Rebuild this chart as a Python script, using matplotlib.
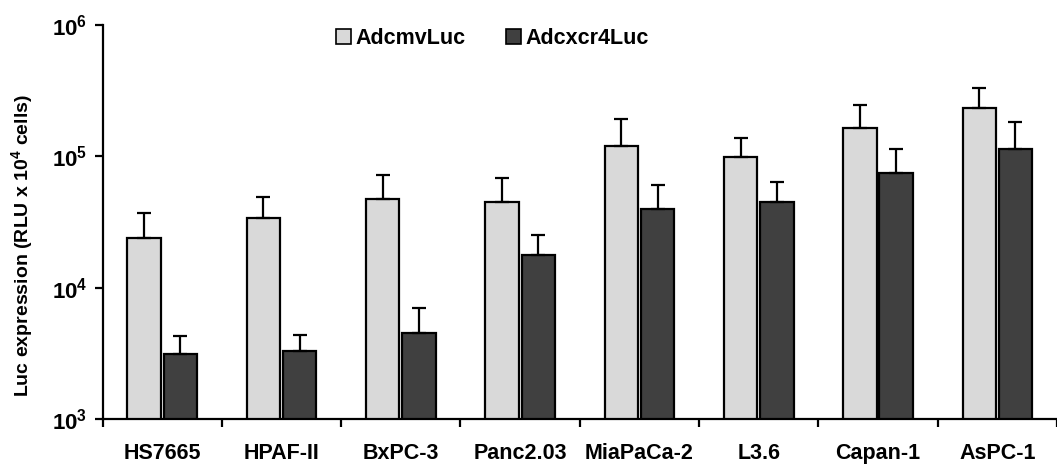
import matplotlib
matplotlib.use("Agg")
import matplotlib.pyplot as plt
import numpy as np
from matplotlib.patches import Patch

cell_lines = ["HS7665", "HPAF-II", "BxPC-3", "Panc2.03", "MiaPaCa-2", "L3.6", "Capan-1", "AsPC-1"]
cmv_mean = [24000, 33800, 47400, 44700, 120000, 99500, 164000, 232000]
cmv_err = [13000, 15000, 24700, 23800, 72000, 38500, 84000, 100000]
cxcr4_mean = [3110, 3290, 4490, 17700, 40000, 44700, 74800, 114000]
cxcr4_err = [1180, 1070, 2500, 7600, 21000, 19000, 39600, 69000]
ytick_vals = [1e3, 1e4, 1e5, 1e6]
ytick_labels = [r"$10^{3}$", r"$10^{4}$", r"$10^{5}$", r"$10^{6}$"]

plt.rcParams["font.family"] = "Liberation Sans"
plt.rcParams["font.weight"] = "bold"
plt.rcParams["mathtext.fontset"] = "custom"
plt.rcParams["mathtext.rm"] = "Liberation Sans:bold"
plt.rcParams["mathtext.bf"] = "Liberation Sans:bold"
plt.rcParams["mathtext.default"] = "rm"

light = "#d9d9d9"
dark = "#404040"

fig = plt.figure(figsize=(10.57, 4.65), dpi=100)
ax = fig.add_axes([0.097, 0.099, 0.903, 0.847])

x = np.arange(len(cell_lines))
w = 0.28
off = 0.152
err_kw = dict(ecolor="black", elinewidth=1.6, capsize=5, capthick=1.6)

ax.bar(x - off, cmv_mean, w, color=light, edgecolor="black", linewidth=1.6,
       yerr=[np.zeros(len(x)), cmv_err], error_kw=err_kw, zorder=2)
ax.bar(x + off, cxcr4_mean, w, color=dark, edgecolor="black", linewidth=1.6,
       yerr=[np.zeros(len(x)), cxcr4_err], error_kw=err_kw, zorder=2)

ax.set_yscale("log")
ax.set_ylim(1e3, 1e6)
ax.set_xlim(-0.5, len(cell_lines) - 0.5)
ax.set_yticks(ytick_vals)
ax.set_yticklabels(ytick_labels, fontsize=16)
ax.yaxis.set_minor_locator(matplotlib.ticker.NullLocator())

ax.set_xticks(x)
ax.set_xticklabels(cell_lines, fontsize=15.5, fontweight="bold")
ax.tick_params(axis="x", which="major", length=0, pad=17)
ax.set_xticks(np.arange(len(cell_lines) + 1) - 0.5, minor=True)
ax.tick_params(axis="x", which="minor", length=6, width=1.6, direction="out")
ax.tick_params(axis="y", which="major", length=6, width=1.6, direction="out", pad=5)

for side in ["top", "right"]:
    ax.spines[side].set_visible(False)
for side in ["left", "bottom"]:
    ax.spines[side].set_linewidth(1.6)

ax.set_ylabel(r"Luc expression (RLU x 10$^{4}$ cells)", fontsize=14, fontweight="bold")
ax.yaxis.set_label_coords(-0.071, 0.44)

handles = [Patch(facecolor=light, edgecolor="black", linewidth=1.2),
           Patch(facecolor=dark, edgecolor="black", linewidth=1.2)]
fig.legend(handles, ["AdcmvLuc", "Adcxcr4Luc"], ncol=2, frameon=False,
           loc="center", bbox_to_anchor=(0.466, 0.918), fontsize=15.5,
           handlelength=0.7, handleheight=0.7, handletextpad=0.2, columnspacing=1.9)

fig.savefig("out.png", dpi=100)
